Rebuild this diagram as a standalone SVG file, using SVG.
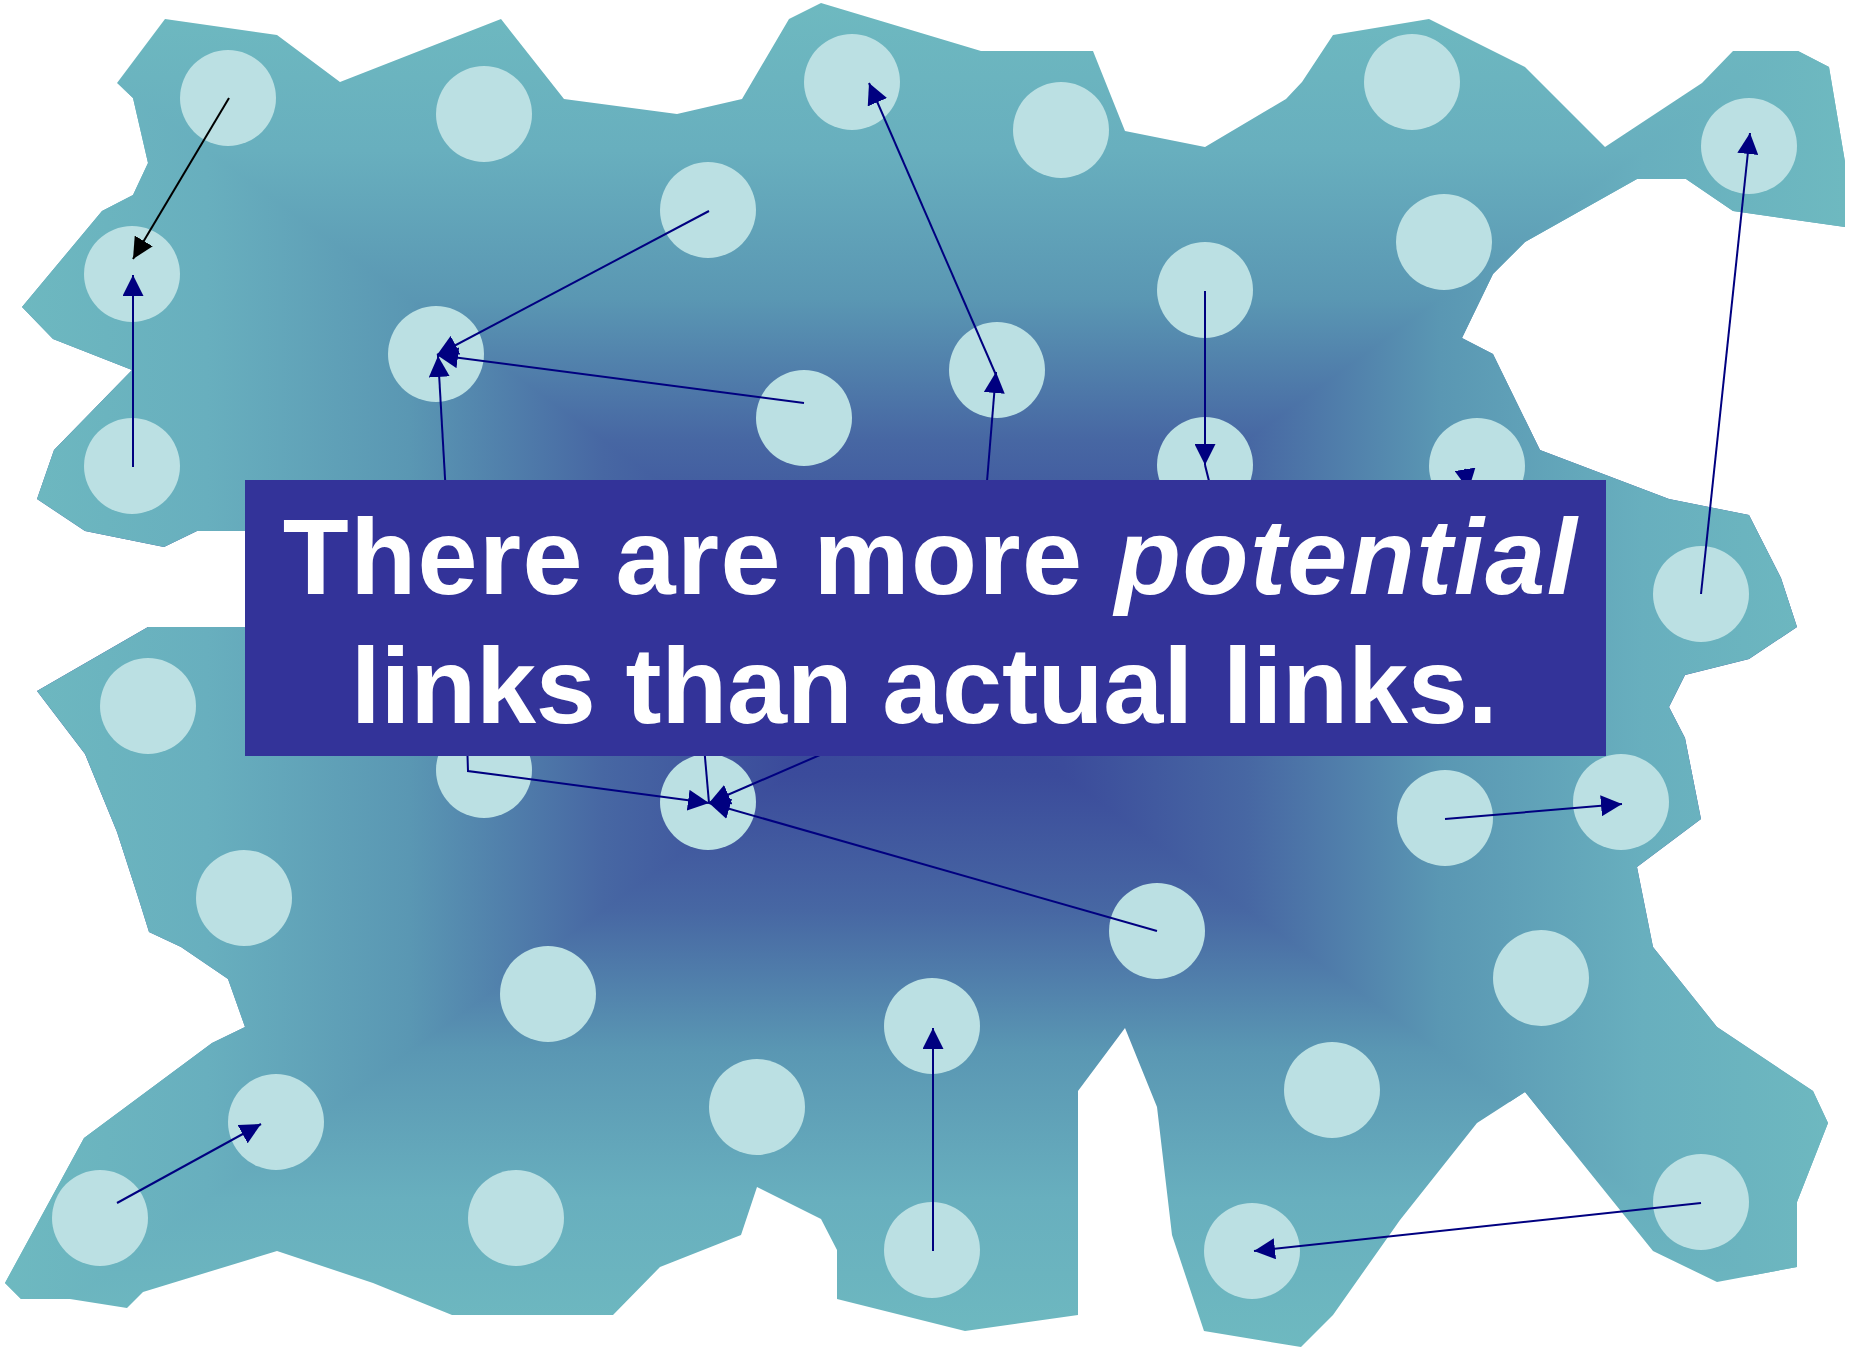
<svg xmlns="http://www.w3.org/2000/svg" width="1865" height="1350" viewBox="0 0 1865 1350">
  <defs>
    <style>
      .node { fill: #BBE0E3; }
      .lnk { fill: none; stroke: #000080; stroke-width: 2; }
      .lbl { font-family: "Liberation Sans", Arial, sans-serif; font-weight: bold; font-size: 108px; fill: #FFFFFF; }
    </style>
    <linearGradient id="gv" gradientUnits="userSpaceOnUse" x1="0" y1="3" x2="0" y2="1347">
      <stop offset="0" stop-color="#6EB9C0"/>
      <stop offset="0.11" stop-color="#68AFBE"/>
      <stop offset="0.22" stop-color="#5A97B3"/>
      <stop offset="0.325" stop-color="#4767A3"/>
      <stop offset="0.425" stop-color="#3B4B9B"/>
      <stop offset="0.5" stop-color="#37449A"/>
      <stop offset="0.575" stop-color="#3B4B9B"/>
      <stop offset="0.675" stop-color="#4767A3"/>
      <stop offset="0.78" stop-color="#5A97B3"/>
      <stop offset="0.89" stop-color="#68AFBE"/>
      <stop offset="1" stop-color="#6EB9C0"/>
    </linearGradient>
    <linearGradient id="gh" gradientUnits="userSpaceOnUse" x1="5" y1="0" x2="1845" y2="0">
      <stop offset="0" stop-color="#6EB9C0"/>
      <stop offset="0.11" stop-color="#68AFBE"/>
      <stop offset="0.22" stop-color="#5A97B3"/>
      <stop offset="0.325" stop-color="#4767A3"/>
      <stop offset="0.425" stop-color="#3B4B9B"/>
      <stop offset="0.5" stop-color="#37449A"/>
      <stop offset="0.575" stop-color="#3B4B9B"/>
      <stop offset="0.675" stop-color="#4767A3"/>
      <stop offset="0.78" stop-color="#5A97B3"/>
      <stop offset="0.89" stop-color="#68AFBE"/>
      <stop offset="1" stop-color="#6EB9C0"/>
    </linearGradient>
    <clipPath id="shapeClip">
      <polygon points="165,19 277,35 340,82 501,19 564,99 677,114 742,99 789,19 821,3 981,51 1093,51 1125,131 1205,147 1286,99 1302,82 1333,35 1429,19 1525,67 1605,147 1702,83 1733,51 1798,51 1829,67 1845,162 1845,227 1733,211 1686,179 1637,179 1525,242 1493,274 1462,338 1493,354 1540,450 1669,499 1749,515 1781,578 1797,627 1749,659 1685,675 1669,707 1685,738 1701,819 1637,867 1653,947 1717,1027 1813,1091 1828,1123 1797,1202 1797,1267 1717,1282 1653,1251 1525,1092 1477,1123 1400,1220 1333,1315 1301,1347 1204,1331 1172,1235 1157,1107 1125,1028 1078,1091 1078,1315 965,1331 837,1299 837,1250 821,1219 757,1187 741,1235 660,1267 613,1315 452,1315 373,1283 277,1251 143,1292 127,1308 70,1299 21,1299 5,1283 84,1138 212,1043 245,1027 228,979 181,947 149,932 139,900 117,832 85,754 37,691 148,627 255,627 255,531 197,531 164,547 85,531 37,499 54,450 132,370 53,339 22,307 102,211 133,195 148,163 133,98 117,83"/>
    </clipPath>
    <marker id="ah" markerUnits="userSpaceOnUse" viewBox="0 0 21 21" markerWidth="21" markerHeight="21" refX="21" refY="10.5" orient="auto">
      <path d="M0,0 L21,10.5 L0,21 z" fill="#000080"/>
    </marker>
    <marker id="ahk" markerUnits="userSpaceOnUse" viewBox="0 0 21 21" markerWidth="21" markerHeight="21" refX="21" refY="10.5" orient="auto">
      <path d="M0,0 L21,10.5 L0,21 z" fill="#000000"/>
    </marker>
  </defs>

  <rect width="1865" height="1350" fill="#FFFFFF"/>

  <g id="network-area" clip-path="url(#shapeClip)">
    <rect x="0" y="0" width="1865" height="1350" fill="url(#gv)"/>
    <polygon points="5,3 925,675 5,1347 -10,1347 -10,3" fill="url(#gh)"/>
    <polygon points="1845,3 925,675 1845,1347 1865,1347 1865,3" fill="url(#gh)"/>
  </g>

  <g id="nodes">
    <g id="n1"><circle class="node" cx="228" cy="98" r="48"/></g>
    <g id="n2"><circle class="node" cx="484" cy="114" r="48"/></g>
    <g id="n3"><circle class="node" cx="852" cy="82" r="48"/></g>
    <g id="n4"><circle class="node" cx="1061" cy="130" r="48"/></g>
    <g id="n5"><circle class="node" cx="1412" cy="82" r="48"/></g>
    <g id="n6"><circle class="node" cx="1749" cy="146" r="48"/></g>
    <g id="n7"><circle class="node" cx="132" cy="274" r="48"/></g>
    <g id="n8"><circle class="node" cx="708" cy="210" r="48"/></g>
    <g id="n9"><circle class="node" cx="1444" cy="242" r="48"/></g>
    <g id="n10"><circle class="node" cx="1205" cy="290" r="48"/></g>
    <g id="n11"><circle class="node" cx="436" cy="354" r="48"/></g>
    <g id="n12"><circle class="node" cx="997" cy="370" r="48"/></g>
    <g id="n13"><circle class="node" cx="804" cy="418" r="48"/></g>
    <g id="n14"><circle class="node" cx="132" cy="466" r="48"/></g>
    <g id="n15"><circle class="node" cx="1205" cy="465" r="48"/></g>
    <g id="n16"><circle class="node" cx="1477" cy="466" r="48"/></g>
    <g id="n17"><circle class="node" cx="1701" cy="594" r="48"/></g>
    <g id="n18"><circle class="node" cx="148" cy="706" r="48"/></g>
    <g id="n19"><circle class="node" cx="484" cy="770" r="48"/></g>
    <g id="n20"><circle class="node" cx="708" cy="802" r="48"/></g>
    <g id="n21"><circle class="node" cx="1445" cy="818" r="48"/></g>
    <g id="n22"><circle class="node" cx="1621" cy="802" r="48"/></g>
    <g id="n23"><circle class="node" cx="244" cy="898" r="48"/></g>
    <g id="n24"><circle class="node" cx="1157" cy="931" r="48"/></g>
    <g id="n25"><circle class="node" cx="548" cy="994" r="48"/></g>
    <g id="n26"><circle class="node" cx="932" cy="1026" r="48"/></g>
    <g id="n27"><circle class="node" cx="1541" cy="978" r="48"/></g>
    <g id="n28"><circle class="node" cx="276" cy="1122" r="48"/></g>
    <g id="n29"><circle class="node" cx="757" cy="1107" r="48"/></g>
    <g id="n30"><circle class="node" cx="1332" cy="1090" r="48"/></g>
    <g id="n31"><circle class="node" cx="100" cy="1218" r="48"/></g>
    <g id="n32"><circle class="node" cx="516" cy="1218" r="48"/></g>
    <g id="n33"><circle class="node" cx="932" cy="1250" r="48"/></g>
    <g id="n34"><circle class="node" cx="1252" cy="1251" r="48"/></g>
    <g id="n35"><circle class="node" cx="1701" cy="1202" r="48"/></g>
  </g>

  <g id="connectors">
    <line class="lnk" x1="229" y1="98" x2="133" y2="259" stroke="#000000" style="stroke:#000000" marker-end="url(#ahk)"/>
    <line class="lnk" x1="133" y1="467" x2="133" y2="275" marker-end="url(#ah)"/>
    <line class="lnk" x1="709" y1="211" x2="437" y2="355" marker-end="url(#ah)"/>
    <line class="lnk" x1="804" y1="403" x2="437" y2="355" marker-end="url(#ah)"/>
    <line class="lnk" x1="448" y1="530" x2="438" y2="356" marker-end="url(#ah)"/>
    <line class="lnk" x1="996" y1="375" x2="869" y2="83" marker-end="url(#ah)"/>
    <line class="lnk" x1="983" y1="530" x2="996" y2="372" marker-end="url(#ah)"/>
    <line class="lnk" x1="1205" y1="291" x2="1205" y2="465" marker-end="url(#ah)"/>
    <line class="lnk" x1="1205" y1="465" x2="1215" y2="505"/>
    <line class="lnk" x1="1465" y1="469" x2="1468.5" y2="490" marker-end="url(#ah)"/>
    <line class="lnk" x1="1701" y1="594" x2="1750" y2="133" marker-end="url(#ah)"/>
    <line class="lnk" x1="1445" y1="819" x2="1622" y2="804" marker-end="url(#ah)"/>
    <line class="lnk" x1="1701" y1="1203" x2="1254" y2="1251" marker-end="url(#ah)"/>
    <line class="lnk" x1="117" y1="1203" x2="261" y2="1124" marker-end="url(#ah)"/>
    <line class="lnk" x1="933" y1="1251" x2="933" y2="1028" marker-end="url(#ah)"/>
    <line class="lnk" x1="1157" y1="931" x2="709" y2="803" marker-end="url(#ah)"/>
    <line class="lnk" x1="850" y1="742" x2="709" y2="803" marker-end="url(#ah)"/>
    <path class="lnk" d="M467,740 L468,771 L709,803" marker-end="url(#ah)"/>
    <line class="lnk" x1="709" y1="803" x2="700" y2="700"/>
  </g>

  <g id="caption">
    <rect x="245" y="480" width="1361" height="276" fill="#333399"/>
    <text class="lbl" x="282.7" y="594" textLength="1294" lengthAdjust="spacing">There are more <tspan font-style="italic">potential</tspan></text>
    <text class="lbl" x="350.7" y="723" textLength="1147" lengthAdjust="spacing">links than actual links.</text>
  </g>
</svg>
